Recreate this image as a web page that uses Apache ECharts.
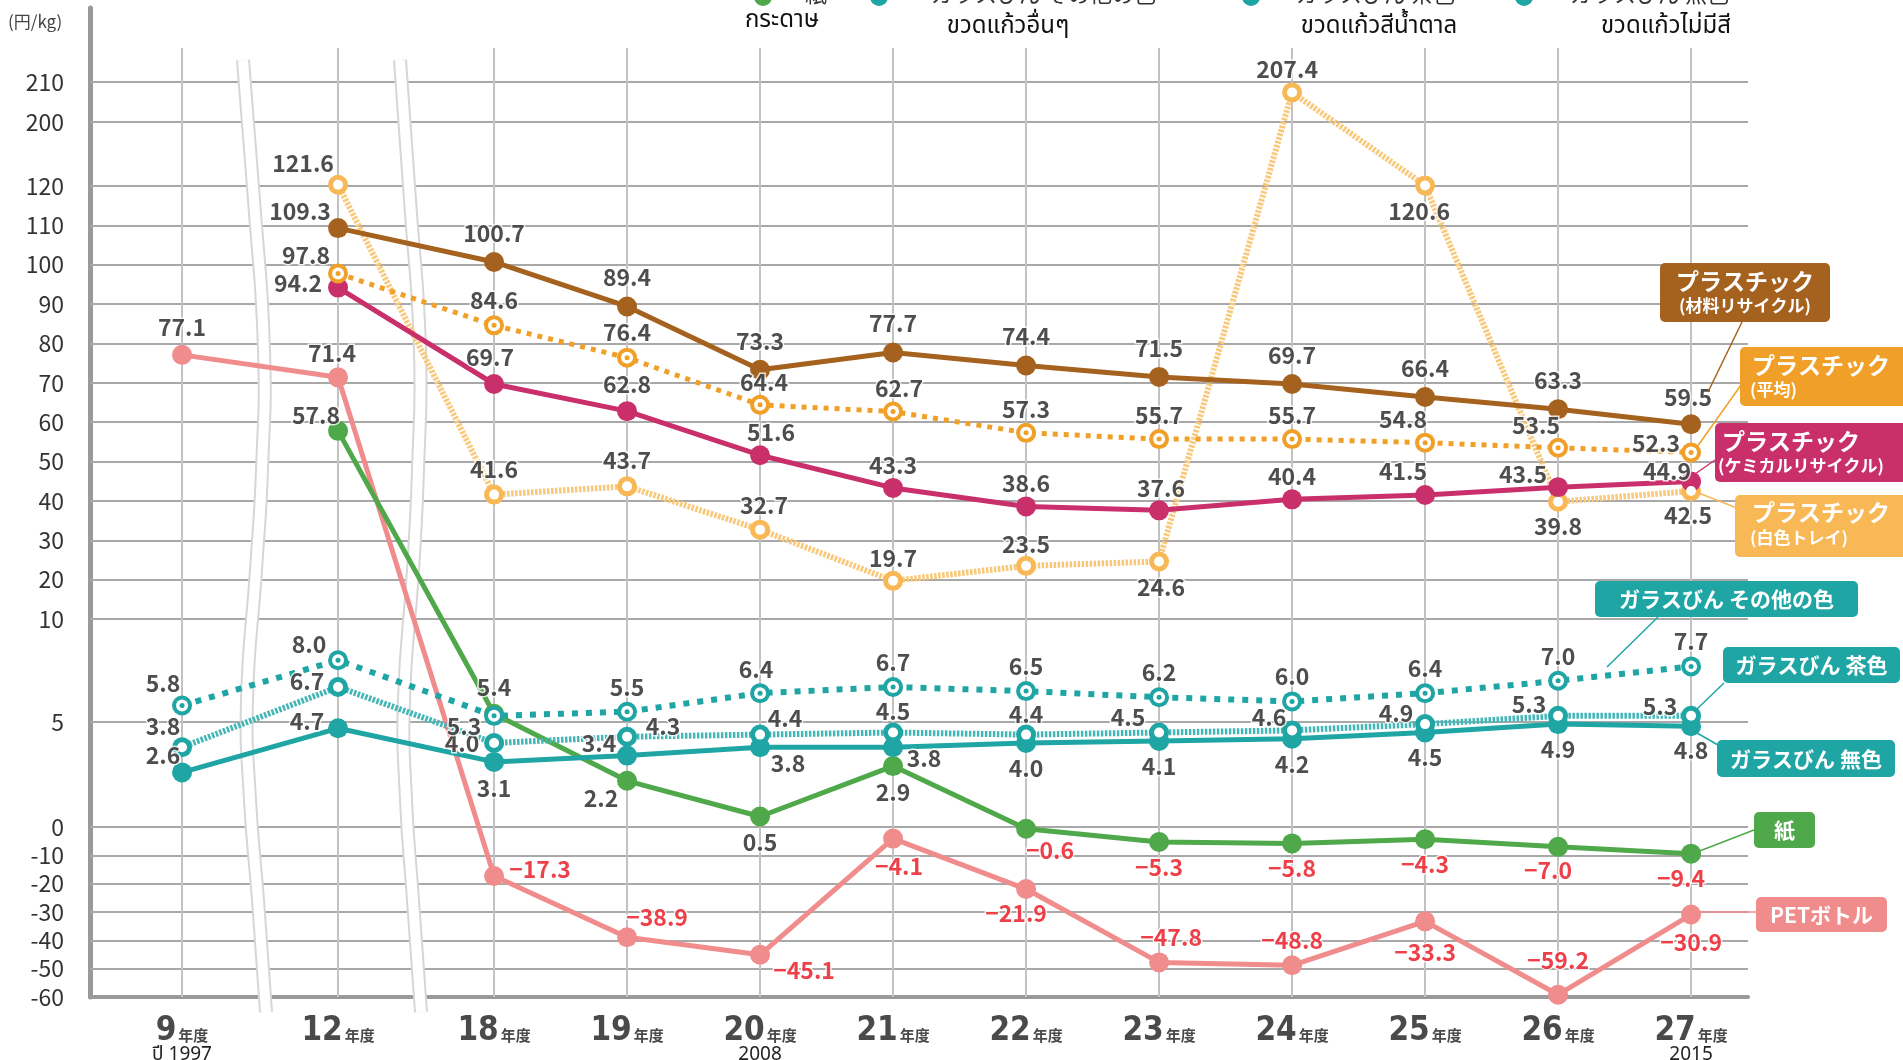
<!DOCTYPE html>
<html>
<head>
    <meta charset="utf-8">
    <title>リサイクル単価の推移</title>
    <script src="https://cdn.jsdelivr.net/npm/echarts@6/dist/echarts.min.js"></script>
    <style>
        html, body { margin: 0; padding: 0; background: #fff; }
        #chartmain { width: 1903px; height: 1060px; }
    </style>
</head>
<body>
<div id="chartmain"></div>
<script>
    // 年度
    var years = ['9', '12', '18', '19', '20', '21', '22', '23', '24', '25', '26', '27'];
    var yearsThai = ['ปี 1997', '', '', '', '2008', '', '', '', '', '', '', '2015'];

    // 円/kg
    var plasticMaterial = [null, 109.3, 100.7, 89.4, 73.3, 77.7, 74.4, 71.5, 69.7, 66.4, 63.3, 59.5];
    var plasticAverage = [null, 97.8, 84.6, 76.4, 64.4, 62.7, 57.3, 55.7, 55.7, 54.8, 53.5, 52.3];
    var plasticChemical = [null, 94.2, 69.7, 62.8, 51.6, 43.3, 38.6, 37.6, 40.4, 41.5, 43.5, 44.9];
    var plasticTray = [null, 121.6, 41.6, 43.7, 32.7, 19.7, 23.5, 24.6, 207.4, 120.6, 39.8, 42.5];
    var glassOther = [5.8, 8.0, 5.3, 5.5, 6.4, 6.7, 6.5, 6.2, 6.0, 6.4, 7.0, 7.7];
    var glassBrown = [3.8, 6.7, 4.0, 4.3, 4.4, 4.5, 4.4, 4.5, 4.6, 4.9, 5.3, 5.3];
    var glassClear = [2.6, 4.7, 3.1, 3.4, 3.8, 3.8, 4.0, 4.1, 4.2, 4.5, 4.9, 4.8];
    var paper = [null, 57.8, 5.4, 2.2, 0.5, 2.9, -0.6, -5.3, -5.8, -4.3, -7.0, -9.4];
    var petBottle = [77.1, 71.4, -17.3, -38.9, -45.1, -4.1, -21.9, -47.8, -48.8, -33.3, -59.2, -30.9];

    var yTicks = [-60, -50, -40, -30, -20, -10, 0, 5, 10, 20, 30, 40, 50, 60, 70, 80, 90, 100, 110, 120, 200, 210];

    // 縦軸は区間ごとに目盛り幅が違う (折れ軸)
    var yBreakValues = [-60, 0, 5, 10, 120, 200, 210];
    var yBreakPixels = [0, 170, 275, 378, 811, 875, 915];

    function toAxis(v) {
        for (var k = 1; k < yBreakValues.length; k++) {
            if (v <= yBreakValues[k] || k === yBreakValues.length - 1) {
                var v0 = yBreakValues[k - 1], v1 = yBreakValues[k];
                var p0 = yBreakPixels[k - 1], p1 = yBreakPixels[k];
                return p0 + (v - v0) * (p1 - p0) / (v1 - v0);
            }
        }
    }

    // 横軸: 9→12, 12→18 は省略区間なので少し広い
    function xPos(i) {
        return i + 0.173 * Math.min(i, 2);
    }

    // ラベル位置 (点からのずれ)
    var labelOffsets = {
        material: [null, [-38, -17], [0, -29], [0, -29], [0, -29], [0, -29], [0, -29], [0, -29], [0, -29], [0, -29], [0, -29], [-3, -27]],
        average: [null, [-32, -18], [0, -25], [0, -25], [4, -23], [6, -23], [0, -24], [0, -24], [0, -24], [-22, -23], [-22, -23], [-35, -9]],
        chemical: [null, [-40, -4], [-4, -27], [0, -27], [11, -23], [0, -23], [0, -23], [2, -22], [0, -23], [-22, -24], [-35, -13], [-24, -10]],
        tray: [null, [-35, -21], [0, -25], [0, -26], [4, -24], [0, -23], [0, -22], [2, 26], [-5, -23], [-6, 26], [0, 25], [-3, 24]],
        glassOther: [[-19, -22], [-29, -16], [-30, 10], [0, -24], [-4, -24], [0, -25], [0, -25], [0, -25], [0, -25], [0, -25], [0, -25], [0, -25]],
        glassBrown: [[-19, -21], [-31, -6], [-32, 0], [36, -10], [25, -16], [0, -21], [0, -20], [-31, -15], [-23, -13], [-29, -11], [-29, -12], [-31, -10]],
        glassClear: [[-19, -17], [-31, -7], [0, 26], [-28, -12], [28, 16], [31, 11], [0, 25], [0, 25], [0, 25], [0, 25], [0, 25], [0, 24]],
        paper: [null, [-22, -16], [0, -26], [-26, 17], [0, 26], [0, 26], [24, 22], [0, 25], [0, 25], [0, 25], [-10, 23], [-10, 25]],
        pet: [[0, -28], [-6, -24], [46, -7], [30, -20], [44, 15], [6, 28], [-10, 24], [12, -25], [0, -25], [0, 31], [0, -34], [0, 28]]
    };

    var JP = "'Noto Sans CJK JP', 'Noto Sans', sans-serif";
    var TH = "'Noto Sans Thai', 'Noto Sans Thai Looped', 'Noto Sans', 'DejaVu Sans', sans-serif";

    function fmtValue(v) {
        return v < 0 ? '\u2212' + Math.abs(v).toFixed(1) : v.toFixed(1);
    }

    function makeData(values, offsets) {
        var out = [];
        for (var i = 0; i < values.length; i++) {
            if (values[i] == null) continue;
            var item = {value: [xPos(i), toAxis(values[i])], raw: values[i]};
            if (offsets) {
                item.label = {offset: offsets[i], color: values[i] < 0 ? '#E8101C' : '#222'};
            }
            out.push(item);
        }
        return out;
    }

    function lineSeries(name, values, color, opt) {
        return {
            name: name,
            type: 'line',
            z: 3,
            data: makeData(values),
            symbol: 'circle',
            symbolSize: 20,
            itemStyle: {color: color},
            lineStyle: {color: opt.lineColor || color, width: opt.width || 5, type: opt.dash || 'solid', cap: 'butt'},
            label: {show: false},
            emphasis: {disabled: true},
            silent: true
        };
    }

    // マーカーの中 (白抜き・中心の点)
    function dotSeries(values, color, size, z) {
        return {
            type: 'line',
            z: z,
            data: makeData(values),
            symbol: 'circle',
            symbolSize: size,
            itemStyle: {color: color},
            lineStyle: {opacity: 0, width: 0},
            label: {show: false},
            emphasis: {disabled: true},
            silent: true
        };
    }

    // 数値ラベルは線より上に
    function labelSeries(values, offsets) {
        return {
            type: 'scatter',
            z: 10,
            data: makeData(values, offsets),
            symbolSize: 1,
            itemStyle: {color: 'rgba(0,0,0,0)'},
            label: {
                show: true,
                position: 'inside',
                align: 'center',
                verticalAlign: 'middle',
                fontSize: 23,
                fontFamily: JP,
                fontWeight: 'bold',
                textBorderColor: '#fff',
                textBorderWidth: 3,
                formatter: function (p) { return fmtValue(p.data.raw); }
            },
            emphasis: {disabled: true},
            silent: true
        };
    }

    // 罫線
    var hLines = yTicks.map(function (t) {
        return {yAxis: toAxis(t), lineStyle: {color: t === -60 ? '#999' : '#a8a8a8', width: t === -60 ? 4 : 2}};
    });
    var vLines = years.map(function (y, i) {
        return [{coord: [xPos(i), 0], lineStyle: {color: '#c2c2c2', width: 2}}, {coord: [xPos(i), 949]}];
    });

    var series = [
        {
            type: 'line', z: 1, data: [], silent: true,
            markLine: {
                z: 1, silent: true, symbol: ['none', 'none'], label: {show: false},
                lineStyle: {type: 'solid'},
                data: hLines.concat(vLines)
            }
        },
        lineSeries('PETボトル', petBottle, '#F08C8C', {}),
        lineSeries('紙', paper, '#4FA84A', {}),
        lineSeries('ガラスびん 無色', glassClear, '#20A5A5', {}),
        lineSeries('ガラスびん 茶色', glassBrown, '#20A5A5', {width: 6, dash: [2.5, 1.5], lineColor: '#45B6B6'}),
        lineSeries('ガラスびん その他の色', glassOther, '#20A5A5', {width: 6, dash: [6, 8]}),
        lineSeries('プラスチック(白色トレイ)', plasticTray, '#F8B855', {width: 6, dash: [2.5, 1.5], lineColor: '#F9C878'}),
        lineSeries('プラスチック(ケミカルリサイクル)', plasticChemical, '#C9306B', {}),
        lineSeries('プラスチック(平均)', plasticAverage, '#F0A028', {width: 5, dash: [5, 6]}),
        lineSeries('プラスチック(材料リサイクル)', plasticMaterial, '#A5621F', {}),
        dotSeries(glassBrown, '#fff', 10, 4),
        dotSeries(glassOther, '#fff', 12, 4),
        dotSeries(plasticTray, '#fff', 10, 4),
        dotSeries(plasticAverage, '#fff', 12, 4),
        dotSeries(glassOther, '#20A5A5', 5, 5),
        dotSeries(plasticAverage, '#F0A028', 5, 5),
        labelSeries(petBottle, labelOffsets.pet),
        labelSeries(paper, labelOffsets.paper),
        labelSeries(glassClear, labelOffsets.glassClear),
        labelSeries(glassBrown, labelOffsets.glassBrown),
        labelSeries(glassOther, labelOffsets.glassOther),
        labelSeries(plasticTray, labelOffsets.tray),
        labelSeries(plasticChemical, labelOffsets.chemical),
        labelSeries(plasticAverage, labelOffsets.average),
        labelSeries(plasticMaterial, labelOffsets.material)
    ];

    // 波線 (省略記号)
    function band(points) {
        return [
            {type: 'polyline', z: 2, silent: true, shape: {points: points, smooth: 0.5},
                style: {stroke: '#d6d6d6', lineWidth: 14, fill: null}},
            {type: 'polyline', z: 2, silent: true, shape: {points: points, smooth: 0.5},
                style: {stroke: '#fff', lineWidth: 10, fill: null}}
        ];
    }

    function box(x, y, w, h, color, lines, align) {
        var els = [{type: 'rect', z: 20, shape: {x: x, y: y, width: w, height: h, r: 5}, style: {fill: color}}];
        lines.forEach(function (ln) {
            els.push({
                type: 'text', z: 21,
                style: {
                    x: align === 'left' ? x + ln.dx : x + w / 2, y: y + ln.dy,
                    text: ln.text, fill: '#fff', font: 'bold ' + ln.size + 'px ' + JP,
                    align: align === 'left' ? 'left' : 'center', verticalAlign: 'middle'
                }
            });
        });
        return els;
    }

    function leader(x1, y1, x2, y2, color) {
        return {type: 'line', z: 19, shape: {x1: x1, y1: y1, x2: x2, y2: y2}, style: {stroke: color, lineWidth: 1.5}};
    }

    var graphics = [].concat(
        band([[243, 60], [254, 200], [264, 350], [262, 470], [256, 570], [247, 700], [250, 800], [258, 900], [266, 1012]]),
        band([[400, 60], [410, 200], [420, 350], [418, 470], [413, 570], [404, 700], [406, 800], [413, 900], [421, 1012]]),
        [
            {type: 'text', style: {x: 8, y: 22, text: '(円/kg)', font: '17px ' + JP, fill: '#444', verticalAlign: 'middle'}},
            // 上部の凡例 (上端で切れている)
            {type: 'circle', shape: {cx: 763, cy: -3, r: 9}, style: {fill: '#4FA84A'}},
            {type: 'circle', shape: {cx: 879, cy: -3, r: 9}, style: {fill: '#20A5A5'}},
            {type: 'circle', shape: {cx: 1251, cy: -3, r: 9}, style: {fill: '#20A5A5'}},
            {type: 'circle', shape: {cx: 1524, cy: -3, r: 9}, style: {fill: '#20A5A5'}},
            {type: 'text', style: {x: 805, y: -6, text: '紙', font: '22px ' + JP, fill: '#333', verticalAlign: 'middle'}},
            {type: 'text', style: {x: 931, y: -6, text: 'ガラスびん その他の色', font: '22px ' + JP, fill: '#333', verticalAlign: 'middle'}},
            {type: 'text', style: {x: 1296, y: -6, text: 'ガラスびん 茶色', font: '22px ' + JP, fill: '#333', verticalAlign: 'middle'}},
            {type: 'text', style: {x: 1570, y: -6, text: 'ガラスびん 無色', font: '22px ' + JP, fill: '#333', verticalAlign: 'middle'}},
            {type: 'text', style: {x: 782, y: 22, text: 'กระดาษ', font: '24px ' + TH, fill: '#111', align: 'center', verticalAlign: 'middle'}},
            {type: 'text', style: {x: 1008, y: 28, text: 'ขวดแก้วอื่นๆ', font: '24px ' + TH, fill: '#111', align: 'center', verticalAlign: 'middle'}},
            {type: 'text', style: {x: 1379, y: 28, text: 'ขวดแก้วสีน้ำตาล', font: '24px ' + TH, fill: '#111', align: 'center', verticalAlign: 'middle'}},
            {type: 'text', style: {x: 1666, y: 28, text: 'ขวดแก้วไม่มีสี', font: '24px ' + TH, fill: '#111', align: 'center', verticalAlign: 'middle'}},
            // 引き出し線
            leader(1742, 322, 1708, 392, '#A5621F'),
            leader(1741, 385, 1697, 447, '#F0A028'),
            leader(1718, 458, 1695, 474, '#C9306B'),
            leader(1737, 508, 1696, 492, '#F8B855'),
            leader(1658, 617, 1607, 667, '#20A5A5'),
            leader(1724, 683, 1697, 709, '#20A5A5'),
            leader(1697, 733, 1718, 745, '#20A5A5'),
            leader(1754, 830, 1697, 852, '#4FA84A'),
            leader(1697, 912, 1756, 912, '#F08C8C')
        ],
        box(1660, 263, 170, 59, '#A5621F', [{text: 'プラスチック', size: 23, dy: 18}, {text: '(材料リサイクル)', size: 17, dy: 43}]),
        box(1740, 347, 190, 59, '#F0A028', [{text: 'プラスチック', size: 23, dy: 18, dx: 12}, {text: '(平均)', size: 17, dy: 43, dx: 10}], 'left'),
        box(1715, 423, 200, 59, '#C9306B', [{text: 'プラスチック', size: 23, dy: 18, dx: 7}, {text: '(ケミカルリサイクル)', size: 17, dy: 43, dx: 3}], 'left'),
        box(1735, 495, 190, 62, '#F8B855', [{text: 'プラスチック', size: 23, dy: 17, dx: 17}, {text: '(白色トレイ)', size: 17, dy: 43, dx: 15}], 'left'),
        box(1595, 581, 263, 36, '#20A5A5', [{text: 'ガラスびん その他の色', size: 21, dy: 18}]),
        box(1723, 647, 177, 36, '#20A5A5', [{text: 'ガラスびん 茶色', size: 21, dy: 18}]),
        box(1717, 740, 178, 37, '#20A5A5', [{text: 'ガラスびん 無色', size: 21, dy: 19}]),
        box(1754, 812, 61, 36, '#4FA84A', [{text: '紙', size: 21, dy: 18}]),
        box(1756, 897, 131, 35, '#F08C8C', [{text: 'PETボトル', size: 21, dy: 18}])
    );

    var yLabelValues = yTicks.map(toAxis);

    var option = {
        animation: false,
        backgroundColor: '#fff',
        grid: {left: 90, right: 155, top: 8, bottom: 63, containLabel: false, outerBoundsMode: 'none'},
        xAxis: {
            type: 'value',
            min: -0.692,
            max: 11.774,
            splitLine: {show: false},
            axisTick: {show: false},
            axisLine: {show: true, onZero: false, lineStyle: {color: '#999', width: 4}},
            axisLabel: {
                customValues: years.map(function (y, i) { return xPos(i); }),
                margin: 18,
                verticalAlign: 'top',
                formatter: function (val) {
                    var best = 0;
                    for (var i = 0; i < years.length; i++) {
                        if (Math.abs(xPos(i) - val) < Math.abs(xPos(best) - val)) best = i;
                    }
                    var s = '{n|' + years[best] + '}{u|年度}';
                    if (yearsThai[best]) s += '\n{t|' + yearsThai[best] + '}';
                    return s;
                },
                rich: {
                    n: {fontSize: 33, fontWeight: 'bold', color: '#4a4a4a', fontFamily: "'Liberation Sans Narrow', 'DejaVu Sans Condensed', sans-serif", lineHeight: 32},
                    u: {fontSize: 15, fontWeight: 'bold', color: '#4a4a4a', fontFamily: JP, padding: [9, 0, 0, 2], lineHeight: 32},
                    t: {fontSize: 19, color: '#222', fontFamily: TH, lineHeight: 18}
                }
            }
        },
        yAxis: {
            type: 'value',
            min: 0,
            max: 989,
            splitLine: {show: false},
            axisTick: {show: false},
            axisLine: {show: true, onZero: false, lineStyle: {color: '#999', width: 5}},
            axisLabel: {
                customValues: yLabelValues,
                margin: 26,
                fontSize: 23,
                color: '#333',
                fontFamily: JP,
                formatter: function (val) {
                    var best = 0;
                    for (var i = 0; i < yLabelValues.length; i++) {
                        if (Math.abs(yLabelValues[i] - val) < Math.abs(yLabelValues[best] - val)) best = i;
                    }
                    return String(yTicks[best]);
                }
            }
        },
        graphic: graphics,
        series: series
    };

    var myChart = echarts.init(document.getElementById('chartmain'));
    myChart.setOption(option);
</script>
</body>
</html>
